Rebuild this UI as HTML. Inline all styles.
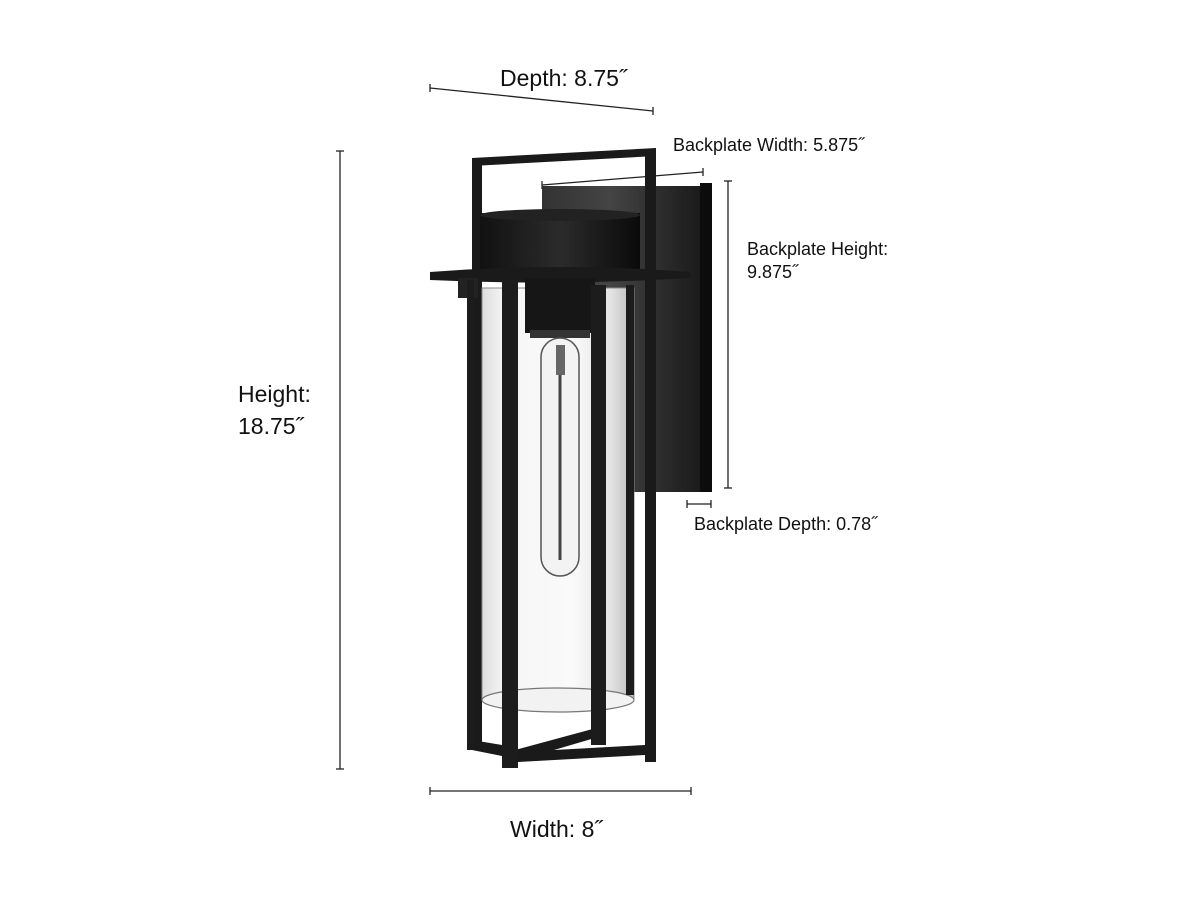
<!DOCTYPE html>
<html><head><meta charset="utf-8"><style>
html,body{margin:0;padding:0;background:#fff;}
svg{display:block}
text{font-family:"Liberation Sans",Arial,sans-serif;fill:#111}
</style></head><body>
<svg width="1200" height="900" viewBox="0 0 1200 900" xmlns="http://www.w3.org/2000/svg">
<defs>
<linearGradient id="bp" x1="0" x2="1"><stop offset="0" stop-color="#333"/><stop offset="0.4" stop-color="#444"/><stop offset="1" stop-color="#151515"/></linearGradient>
<linearGradient id="cap" x1="0" x2="1"><stop offset="0" stop-color="#111"/><stop offset="0.5" stop-color="#2b2b2b"/><stop offset="1" stop-color="#0a0a0a"/></linearGradient>
<linearGradient id="glass" x1="0" x2="1"><stop offset="0" stop-color="#ddd"/><stop offset="0.15" stop-color="#f6f6f6"/><stop offset="0.6" stop-color="#fafafa"/><stop offset="0.85" stop-color="#e2e2e2"/><stop offset="1" stop-color="#bbb"/></linearGradient>
</defs>
<g stroke="#222" stroke-width="1.3" fill="none">
<line x1="430" y1="88" x2="653" y2="111"/><line x1="430" y1="84" x2="430" y2="92"/><line x1="653" y1="107" x2="653" y2="115"/>
<line x1="542" y1="185" x2="703" y2="172"/><line x1="542" y1="181" x2="542" y2="189"/><line x1="703" y1="168" x2="703" y2="176"/>
<line x1="728" y1="181" x2="728" y2="488"/><line x1="724" y1="181" x2="732" y2="181"/><line x1="724" y1="488" x2="732" y2="488"/>
<line x1="687" y1="504" x2="711" y2="504"/><line x1="687" y1="500" x2="687" y2="508"/><line x1="711" y1="500" x2="711" y2="508"/>
<line x1="340" y1="151" x2="340" y2="769"/><line x1="336" y1="151" x2="344" y2="151"/><line x1="336" y1="769" x2="344" y2="769"/>
<line x1="430" y1="791" x2="691" y2="791"/><line x1="430" y1="787" x2="430" y2="795"/><line x1="691" y1="787" x2="691" y2="795"/>
</g>
<text x="500" y="86" font-size="23">Depth: 8.75˝</text>
<text x="673" y="151" font-size="18">Backplate Width: 5.875˝</text>
<text x="747" y="255" font-size="18">Backplate Height:</text>
<text x="747" y="278" font-size="18">9.875˝</text>
<text x="694" y="530" font-size="18">Backplate Depth: 0.78˝</text>
<text x="238" y="402" font-size="23">Height:</text>
<text x="238" y="434" font-size="23">18.75˝</text>
<text x="510" y="837" font-size="23">Width: 8˝</text>
<rect x="542" y="186" width="170" height="306" fill="url(#bp)"/>
<rect x="700" y="183" width="12" height="309" fill="#0c0c0c"/>
<g fill="#1a1a1a">
<polygon points="472,158 656,148 656,156 472,166"/>
<rect x="472" y="158" width="10" height="592"/>
<rect x="645" y="150" width="11" height="612"/>
<polygon points="472,740 502,745 502,756 472,750"/>
<polygon points="518,752 645,745 645,755 518,762"/>
<polygon points="515,750 600,727 605,735 520,760"/>
</g>
<rect x="482" y="288" width="152" height="412" fill="url(#glass)" stroke="#888" stroke-width="1"/>
<ellipse cx="558" cy="700" rx="76" ry="12" fill="#f2f2f2" stroke="#777" stroke-width="1.2"/>
<rect x="480" y="213" width="160" height="60" fill="url(#cap)"/>
<ellipse cx="560" cy="215" rx="80" ry="6" fill="#222"/>
<path d="M430 272 Q560 262 690 272 L690 278 Q560 286 430 280 Z" fill="#1a1a1a"/>
<rect x="458" y="278" width="20" height="20" fill="#222"/>
<rect x="525" y="278" width="70" height="55" fill="#161616"/>
<rect x="530" y="330" width="60" height="8" fill="#333"/>
<rect x="541" y="338" width="38" height="238" rx="19" fill="#f3f3f3" stroke="#555" stroke-width="1.5"/>
<rect x="556" y="345" width="9" height="30" fill="#666"/>
<line x1="560" y1="375" x2="560" y2="560" stroke="#444" stroke-width="3"/>
<g fill="#1c1c1c">
<rect x="502" y="280" width="16" height="488"/>
<rect x="591" y="285" width="15" height="460"/>
<rect x="467" y="280" width="7" height="470"/>
<rect x="626" y="285" width="8" height="410"/>
</g>
</svg>
</body></html>
